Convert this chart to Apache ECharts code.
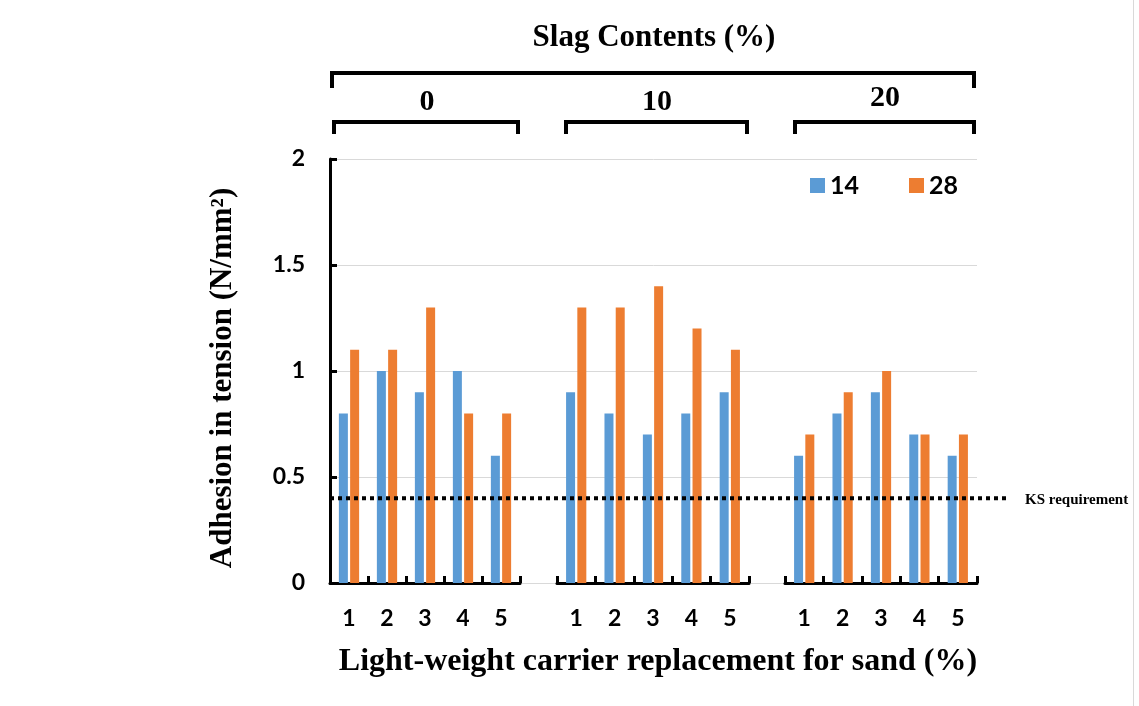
<!DOCTYPE html>
<html>
<head>
<meta charset="utf-8">
<script src="https://cdn.jsdelivr.net/npm/echarts@6/dist/echarts.min.js"></script>
<style>html,body{margin:0;padding:0;background:#fff;}#c{width:1139px;height:706px;}</style>
</head>
<body>
<div id="c"></div>
<script>
// ---- data ----
const categories = ['1', '2', '3', '4', '5'];
const slagGroups = ['0', '10', '20'];
const seriesNames = ['14', '28'];
const day14_slag0 = [0.8, 1.0, 0.9, 1.0, 0.6];
const day28_slag0 = [1.1, 1.1, 1.3, 0.8, 0.8];
const day14_slag10 = [0.9, 0.8, 0.7, 0.8, 0.9];
const day28_slag10 = [1.3, 1.3, 1.4, 1.2, 1.1];
const day14_slag20 = [0.6, 0.8, 0.9, 0.7, 0.6];
const day28_slag20 = [0.7, 0.9, 1.0, 0.7, 0.7];
const ksRequirement = 0.4;
const yTicks = { min: 0, max: 2, interval: 0.5 };

// ---- styles ----
const BLUE = '#5B9BD5', ORANGE = '#ED7D31';
const SANS = 'Lato, "Liberation Sans", sans-serif';
const SERIF = '"Liberation Serif", "DejaVu Serif", serif';
const TOP = 159, H = 424;
const panels = [
  { left: 330, width: 190, d14: day14_slag0, d28: day28_slag0 },
  { left: 557, width: 192, d14: day14_slag10, d28: day28_slag10 },
  { left: 785, width: 192, d14: day14_slag20, d28: day28_slag20 }
];

const grid = [{ left: 330, top: TOP, width: 647, height: H }];
const xAxis = [{ gridIndex: 0, type: 'value', min: 0, max: 1, show: false }];
const yAxis = [{
  gridIndex: 0, type: 'value', min: yTicks.min, max: yTicks.max, interval: yTicks.interval,
  axisLine: { show: true, lineStyle: { color: '#000', width: 3 } },
  axisTick: { show: true, inside: true, length: 7, lineStyle: { color: '#000', width: 3 } },
  axisLabel: { color: '#000', fontFamily: SANS, fontWeight: 'bold', fontSize: 23, margin: 25 },
  splitLine: { show: true, lineStyle: { color: '#d9d9d9', width: 1 } }
}];
const series = [];

panels.forEach((p, i) => {
  const gi = i + 1;
  grid.push({ left: p.left, top: TOP, width: p.width, height: H });
  xAxis.push({
    gridIndex: gi, type: 'category', data: categories,
    axisLine: { show: true, lineStyle: { color: '#000', width: 3 } },
    axisTick: { show: true, inside: true, length: 7, lineStyle: { color: '#000', width: 3 } },
    axisLabel: { color: '#000', fontFamily: SANS, fontWeight: 'bold', fontSize: 23, margin: 24 },
    splitLine: { show: false }
  });
  yAxis.push({ gridIndex: gi, type: 'value', min: yTicks.min, max: yTicks.max, interval: yTicks.interval, show: false, splitLine: { show: false } });
  series.push({
    name: seriesNames[0], type: 'bar', xAxisIndex: gi, yAxisIndex: gi, data: p.d14,
    barWidth: 9, barGap: '25%', itemStyle: { color: BLUE }, z: 3
  });
  series.push({
    name: seriesNames[1], type: 'bar', xAxisIndex: gi, yAxisIndex: gi, data: p.d28,
    barWidth: 9, barGap: '25%', itemStyle: { color: ORANGE }, z: 3
  });
});

// KS requirement line grid (extends beyond plot)
grid.push({ left: 330, top: TOP, width: 677, height: H });
xAxis.push({ gridIndex: 4, type: 'value', min: 0, max: 1, show: false });
yAxis.push({ gridIndex: 4, type: 'value', min: yTicks.min, max: yTicks.max, show: false, splitLine: { show: false } });
series.push({
  name: 'KS requirement', type: 'line', xAxisIndex: 4, yAxisIndex: 4,
  data: [[0, ksRequirement], [1, ksRequirement]], symbol: 'none', silent: true, z: 5,
  lineStyle: { color: '#000', width: 4, type: [4, 4], cap: 'butt' }
});

function bracket(x1, x2, yTop, yBot) {
  return {
    type: 'polyline', silent: true,
    shape: { points: [[x1, yBot], [x1, yTop], [x2, yTop], [x2, yBot]] },
    style: { stroke: '#000', lineWidth: 4, fill: null, lineJoin: 'miter' }
  };
}
function txt(x, y, text, size, extra) {
  return Object.assign({
    type: 'text', x: x, y: y, silent: true,
    style: { text: text, fill: '#000', font: 'bold ' + size + 'px ' + SERIF, textAlign: 'center', textVerticalAlign: 'middle' }
  }, extra || {});
}

const graphic = [
  txt(654, 38, 'Slag Contents (%)', 31),
  bracket(332, 974, 73, 88),
  bracket(334, 518, 122, 134),
  bracket(566, 747, 122, 134),
  bracket(795, 974, 122, 134),
  txt(427, 102, slagGroups[0], 30),
  txt(657, 102, slagGroups[1], 30),
  txt(885, 98, slagGroups[2], 30),
  txt(658, 662, 'Light-weight carrier replacement for sand (%)', 32),
  txt(223, 378, 'Adhesion in tension (N/mm²)', 31, { rotation: Math.PI / 2 }),
  { type: 'text', x: 1025, y: 500, silent: true,
    style: { text: 'KS requirement', fill: '#000', font: 'bold 15px ' + SERIF, textAlign: 'left', textVerticalAlign: 'middle' } },
  { type: 'line', silent: true, shape: { x1: 1133.5, y1: 0, x2: 1133.5, y2: 706 }, style: { stroke: '#d9d9d9', lineWidth: 1 } }
];

const chart = echarts.init(document.getElementById('c'), null, { renderer: 'canvas' });
chart.setOption({
  backgroundColor: '#fff',
  animation: false,
  legend: {
    data: seriesNames, left: 805, top: 168, itemWidth: 15, itemHeight: 15, itemGap: 50,
    icon: 'rect',
    textStyle: { color: '#000', fontFamily: SANS, fontWeight: 'bold', fontSize: 25 }
  },
  grid: grid, xAxis: xAxis, yAxis: yAxis, series: series, graphic: graphic
});
</script>
</body>
</html>
